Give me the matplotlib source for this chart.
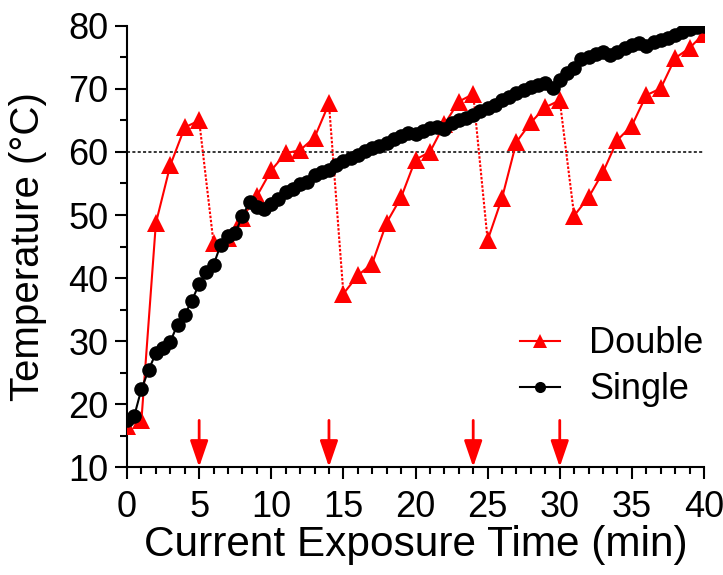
import matplotlib
matplotlib.use("Agg")
import matplotlib.pyplot as plt
import numpy as np
from matplotlib.lines import Line2D
from matplotlib.ticker import MultipleLocator

plt.rcParams["font.family"] = ["Liberation Sans", "DejaVu Sans"]

# ---------------------------------------------------------------------------
# Data
# ---------------------------------------------------------------------------

double_time = list(range(0, 41))
double_temp = [
    16.5, 17.5, 48.7, 57.9, 63.9, 65.0, 45.5, 46.4, 49.6, 53.0,
    57.1, 59.8, 60.3, 62.3, 67.7, 37.5, 40.4, 42.3, 48.8, 52.8,
    58.8, 60.0, 64.4, 68.0, 69.2, 46.0, 52.7, 61.6, 64.7, 67.1,
    68.2, 49.9, 52.8, 56.8, 61.9, 64.2, 69.0, 70.1, 74.9, 76.5,
    78.8,
]

single_time = [i * 0.5 for i in range(81)]
single_temp = [
    17.5, 18.1, 22.4, 25.4, 28.1, 28.9, 29.9, 32.6, 34.2, 36.4,
    39.1, 41.0, 42.1, 45.3, 46.6, 47.1, 49.9, 52.0, 51.2, 50.9,
    51.8, 52.5, 53.6, 54.2, 54.9, 55.2, 56.3, 56.8, 57.2, 57.9,
    58.6, 59.1, 59.6, 60.2, 60.6, 61.0, 61.5, 62.1, 62.5, 63.0,
    62.8, 63.3, 63.8, 63.9, 63.6, 64.6, 65.0, 65.4, 65.8, 66.5,
    67.0, 67.5, 68.2, 68.8, 69.3, 69.8, 70.3, 70.6, 70.9, 70.2,
    71.4, 72.5, 73.3, 74.7, 75.1, 75.5, 75.9, 75.4, 75.9, 76.5,
    77.0, 77.3, 76.9, 77.5, 77.8, 78.1, 78.6, 79.0, 79.5, 79.8,
    80.0,
]

# times at which the second exposure was switched (arrows + dotted drops)
switch_times = [5, 14, 24, 30]
threshold = 60

RED = "#ff0000"

fig = plt.figure(figsize=(7.23, 5.75), dpi=100)
ax = fig.add_axes([0.1757, 0.1878, 0.798, 0.767])

# ---- Double: solid within each cycle, dotted for the drops ---------------
dt = np.array(double_time)
dv = np.array(double_temp)
bounds = [0] + [double_time.index(t) + 1 for t in switch_times] + [len(dt)]
for a, b in zip(bounds[:-1], bounds[1:]):
    ax.plot(dt[a:b], dv[a:b], color=RED, lw=1.5, zorder=2)
for t in switch_times:
    i = double_time.index(t)
    ax.plot(dt[i:i + 2], dv[i:i + 2], color=RED, lw=1.5,
            linestyle=(0, (1.2, 0.8)), zorder=2)
ax.plot(dt, dv, linestyle="none", marker="^", markersize=13.5,
        color=RED, markeredgewidth=0, zorder=3)

# ---- Single ---------------------------------------------------------------
ax.plot(single_time, single_temp, color="black", lw=1.5, marker="o",
        markersize=10.5, markeredgewidth=0, zorder=4)

# ---- Threshold line -------------------------------------------------------
ax.plot([0, 40], [threshold, threshold], color="black", lw=1.1,
        linestyle=(0, (2, 1.5)), zorder=1)

# ---- Switch arrows --------------------------------------------------------
for t in switch_times:
    ax.annotate(
        "", xy=(t, 10), xytext=(t, 17.4),
        arrowprops=dict(arrowstyle="-|>,head_width=0.55,head_length=1.6",
                        color=RED, lw=2, shrinkA=0, shrinkB=0),
        annotation_clip=False, zorder=5,
    )

# ---- Axes cosmetics -------------------------------------------------------
ax.set_xlim(0, 40)
ax.set_ylim(10, 80)
ax.xaxis.set_major_locator(MultipleLocator(5))
ax.xaxis.set_minor_locator(MultipleLocator(1))
ax.yaxis.set_major_locator(MultipleLocator(10))
ax.yaxis.set_minor_locator(MultipleLocator(5))
for side in ("top", "right"):
    ax.spines[side].set_visible(False)
for side in ("left", "bottom"):
    ax.spines[side].set_linewidth(1.5)
ax.tick_params(which="major", length=8.5, width=1.5, labelsize=26, pad=5)
ax.tick_params(axis="x", which="major", pad=8)
ax.tick_params(which="minor", length=5, width=1.5)
ax.set_xlabel("Current Exposure Time (min)", fontsize=30.5, labelpad=0)
ax.set_ylabel("Temperature (°C)", fontsize=29, labelpad=15)

handles = [
    Line2D([0], [0], color=RED, lw=1.5, marker="^", markersize=10,
           markeredgewidth=0, label="Double"),
    Line2D([0], [0], color="black", lw=1.5, marker="o", markersize=8,
           markeredgewidth=0, label="Single"),
]
ax.legend(handles=handles, loc="lower right", bbox_to_anchor=(1.055, 0.062),
          frameon=False, fontsize=26, handlelength=1.1, handletextpad=0.8,
          labelspacing=0.3)

fig.savefig("out.png", dpi=100)
